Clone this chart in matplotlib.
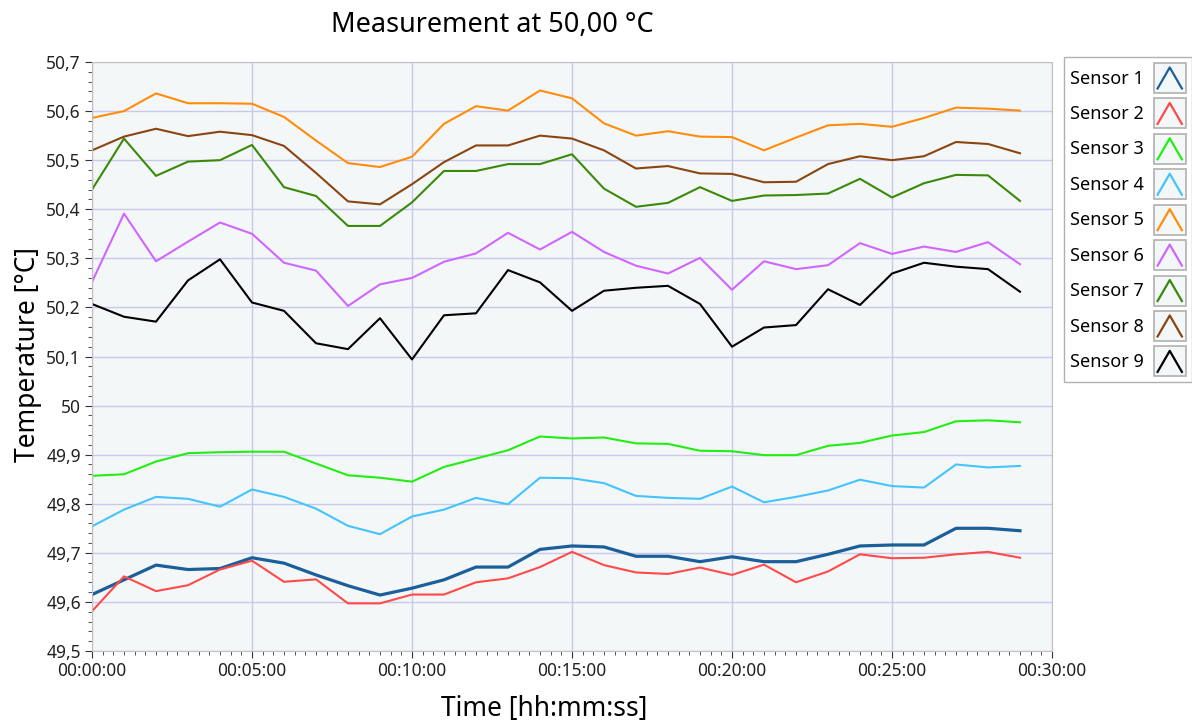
import matplotlib
matplotlib.use("Agg")
from matplotlib import pyplot as plt
from matplotlib.lines import Line2D
from matplotlib.patches import Rectangle
from matplotlib.legend_handler import HandlerBase
from matplotlib.ticker import MultipleLocator, FuncFormatter

plt.rcParams['font.family'] = ['Noto Sans', 'DejaVu Sans']

minutes = list(range(30))

sensor_1 = [49.615, 49.645, 49.675, 49.666, 49.668, 49.690, 49.679, 49.655, 49.633, 49.614,
            49.628, 49.645, 49.671, 49.671, 49.707, 49.714, 49.712, 49.693, 49.693, 49.682,
            49.692, 49.682, 49.682, 49.697, 49.714, 49.716, 49.716, 49.750, 49.750, 49.745]
sensor_2 = [49.581, 49.652, 49.622, 49.634, 49.666, 49.684, 49.641, 49.646, 49.597, 49.597,
            49.615, 49.615, 49.640, 49.648, 49.671, 49.702, 49.675, 49.660, 49.657, 49.670,
            49.655, 49.676, 49.640, 49.662, 49.697, 49.689, 49.690, 49.697, 49.702, 49.690]
sensor_3 = [49.857, 49.860, 49.886, 49.903, 49.905, 49.906, 49.906, 49.882, 49.858, 49.853,
            49.845, 49.875, 49.892, 49.909, 49.937, 49.933, 49.935, 49.923, 49.922, 49.908,
            49.907, 49.899, 49.899, 49.918, 49.924, 49.939, 49.946, 49.968, 49.970, 49.966]
sensor_4 = [49.754, 49.788, 49.814, 49.810, 49.794, 49.829, 49.814, 49.790, 49.755, 49.738,
            49.774, 49.788, 49.812, 49.799, 49.853, 49.852, 49.842, 49.816, 49.812, 49.810,
            49.835, 49.803, 49.814, 49.827, 49.849, 49.836, 49.833, 49.880, 49.874, 49.877]
sensor_5 = [50.586, 50.600, 50.636, 50.616, 50.616, 50.615, 50.588, 50.540, 50.494, 50.486,
            50.507, 50.574, 50.610, 50.601, 50.642, 50.626, 50.575, 50.550, 50.559, 50.548,
            50.547, 50.520, 50.546, 50.571, 50.574, 50.568, 50.586, 50.607, 50.605, 50.601]
sensor_6 = [50.252, 50.391, 50.294, 50.334, 50.373, 50.350, 50.291, 50.275, 50.203, 50.247,
            50.260, 50.293, 50.310, 50.352, 50.318, 50.354, 50.313, 50.285, 50.269, 50.301,
            50.236, 50.294, 50.278, 50.286, 50.331, 50.309, 50.324, 50.313, 50.333, 50.288]
sensor_7 = [50.440, 50.544, 50.468, 50.497, 50.500, 50.531, 50.445, 50.427, 50.366, 50.366,
            50.414, 50.478, 50.478, 50.492, 50.492, 50.512, 50.442, 50.405, 50.413, 50.445,
            50.417, 50.428, 50.429, 50.432, 50.462, 50.424, 50.453, 50.470, 50.469, 50.417]
sensor_8 = [50.520, 50.548, 50.564, 50.549, 50.558, 50.551, 50.529, 50.474, 50.416, 50.410,
            50.451, 50.496, 50.530, 50.530, 50.550, 50.544, 50.520, 50.483, 50.488, 50.473,
            50.472, 50.455, 50.456, 50.492, 50.508, 50.500, 50.508, 50.537, 50.533, 50.514]
sensor_9 = [50.207, 50.181, 50.171, 50.255, 50.298, 50.210, 50.193, 50.127, 50.115, 50.178,
            50.094, 50.184, 50.188, 50.276, 50.251, 50.193, 50.234, 50.240, 50.244, 50.207,
            50.120, 50.159, 50.164, 50.237, 50.205, 50.269, 50.291, 50.283, 50.278, 50.232]

series = [sensor_1, sensor_2, sensor_3, sensor_4, sensor_5, sensor_6, sensor_7, sensor_8, sensor_9]
labels = ["Sensor %d" % (i + 1) for i in range(9)]
colors = ["#1a5f9a", "#ff4a4a", "#22ee11", "#44c4ff", "#ff8c0a",
          "#d066ff", "#3a8a0a", "#8b4510", "#000000"]
widths = [2.3, 1.5, 1.5, 1.5, 1.5, 1.5, 1.5, 1.5, 1.5]


class CaretHandler(HandlerBase):
    # legend icon: small grey box with a "^" line in the series colour
    def create_artists(self, legend, orig_handle, xdescent, ydescent,
                       width, height, fontsize, trans):
        box = Rectangle((-xdescent, -ydescent), width, height,
                        facecolor="#f4f7f8", edgecolor="#b0b0b0", lw=1.2, transform=trans)
        x0, x1 = -xdescent + width * 0.12, -xdescent + width * 0.88
        xs = [x0, -xdescent + width / 2, x1]
        ys = [-ydescent + height * 0.15, -ydescent + height * 0.85, -ydescent + height * 0.15]
        caret = Line2D(xs, ys, color=orig_handle.get_color(), lw=1.6, transform=trans)
        return [box, caret]


def fmt_time(v, pos):
    s = int(round(v * 60))
    return "%02d:%02d:%02d" % (s // 3600, (s % 3600) // 60, s % 60)


def fmt_temp(v, pos):
    return ("%g" % round(v, 2)).replace(".", ",")


fig = plt.figure(figsize=(11.92, 7.24), dpi=100)
ax = fig.add_axes([92 / 1192, 1 - 651 / 724, 960 / 1192, 589 / 724])
ax.set_facecolor("#f4f7f8")

handles = []
for ys, lab, c, w in zip(series, labels, colors, widths):
    h, = ax.plot(minutes, ys, color=c, lw=w, label=lab)
    handles.append(h)

ax.set_xlim(0, 30)
ax.set_ylim(49.5, 50.7)
ax.xaxis.set_major_locator(MultipleLocator(5))
ax.xaxis.set_minor_locator(MultipleLocator(1 / 3))
ax.yaxis.set_major_locator(MultipleLocator(0.1))
ax.yaxis.set_minor_locator(MultipleLocator(0.02))
ax.xaxis.set_major_formatter(FuncFormatter(fmt_time))
ax.yaxis.set_major_formatter(FuncFormatter(fmt_temp))
ax.grid(True, which="major", color="#c8c8ec", lw=1.0)
ax.set_axisbelow(True)
ax.tick_params(which="both", direction="out", color="#333333", labelsize=12.5, labelcolor="#222222")
ax.tick_params(which="major", length=5, pad=3)
ax.tick_params(which="minor", length=3)
for sp in ax.spines.values():
    sp.set_color("#c0c0c0")

fig.text(544 / 1192, 1 - 709 / 724, "Time [hh:mm:ss]", fontsize=19,
         ha="center", va="center")
fig.text(28 / 1192, 1 - 355 / 724, "Temperature [°C]", fontsize=19,
         ha="center", va="center", rotation=90)
fig.text(492 / 1192, 1 - 25 / 724, "Measurement at 50,00 °C", fontsize=19.5,
         ha="center", va="center")

leg = fig.legend(handles=handles, labels=labels, handler_map={Line2D: CaretHandler()},
                 loc="upper left", bbox_to_anchor=(1064 / 1192, 1 - 57 / 724),
                 borderaxespad=0, markerfirst=False, fontsize=13,
                 handlelength=1.77, handleheight=2.18, labelspacing=0.3,
                 handletextpad=0.55, borderpad=0.33,
                 fancybox=False, edgecolor="#b0b0b0", framealpha=1)
leg.get_frame().set_linewidth(1.0)

fig.savefig("out.png", dpi=100)
